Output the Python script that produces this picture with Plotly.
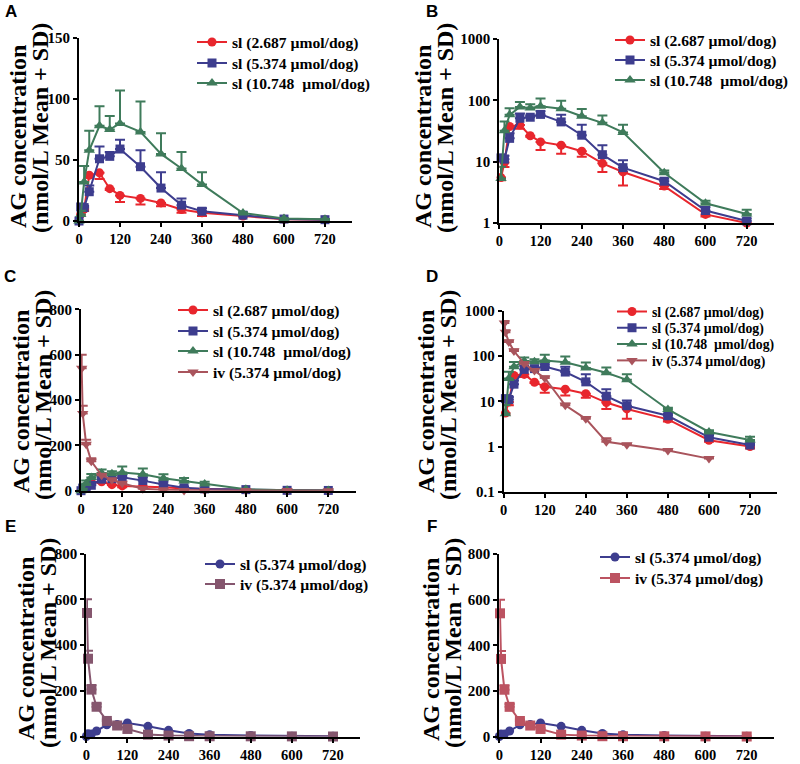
import plotly.graph_objects as go

# ---------------- data ----------------
t_sl = [0, 5, 15, 30, 60, 90, 120, 180, 240, 300, 360, 480, 600, 720]
sl_low_mean = [0, 5.5, 9.7, 37.5, 39.5, 26.5, 21, 18.5, 14.8, 9.4, 6.8, 4.0, 1.38, 1.0]
sl_low_sd = [0, 0.5, 1.5, 2, 5, 1, 5.5, 5, 2.8, 2.6, 2.7, 0.4, 0.1, 0.1]
sl_mid_mean = [0, 11.5, 11, 24, 51, 53, 59, 44.5, 27, 13, 8, 4.8, 1.6, 1.08]
sl_mid_sd = [0, 1.5, 1.5, 5, 10, 3.5, 7.5, 13.5, 13, 5.5, 2.5, 0.5, 0.2, 0.1]
sl_high_mean = [0, 5.3, 32, 58, 78, 75, 80, 73, 55, 43, 30, 6.6, 2.1, 1.4]
sl_high_sd = [0, 3, 13, 16, 16, 11, 27, 25, 17, 13.5, 10, 0.6, 0.2, 0.25]
t_iv = [2, 5, 15, 30, 60, 90, 120, 180, 240, 300, 360, 480, 600, 720]
iv_mean = [540, 340, 205, 130, 68, 48, 33, 8.2, 4.1, 1.27, 1.1, 0.82, 0.54, 0]
iv_sd = [60, 35, 20, 13, 6, 3, 3, 0.8, 0.4, 0.25, 0.05, 0.05, 0.05, 0]

x_ticks = [0, 120, 240, 360, 480, 600, 720]
lin150_ticks = [0, 50, 100, 150]
lin800_ticks = [0, 200, 400, 600, 800]
log_ticks_B = [1, 10, 100, 1000]
log_ticks_D = [0.1, 1, 10, 100, 1000]

name_low = "sl (2.687 µmol/dog)"
name_mid = "sl (5.374 µmol/dog)"
name_high = "sl (10.748  µmol/dog)"
name_iv = "iv (5.374 µmol/dog)"
panel_letters = ["A", "B", "C", "D", "E", "F"]

# ---------------- style ----------------
W, H = 800, 764
RED = "#E8262D"
BLUE = "#3D3D8E"
GREEN = "#3F7B5B"
IV_CD = "#A9545C"
IV_E = "#85566E"
IV_F = "#BC5361"
SERIF = "Liberation Serif"
SANS = "Liberation Sans"


def px(x):
    return x / W


def py(y):
    return 1 - y / H


# panel geometry in pixels: x0, x_end, y_top, y_bottom
geo = [
    (79, 352.3, 38, 221),
    (499.3, 774.2, 39, 223),
    (81, 355.8, 309.3, 490.7),
    (503.7, 777.4, 311, 491.7),
    (86.3, 360.4, 553.5, 736.5),
    (499.3, 774.2, 554, 736.5),
]
yaxis_cfg = [
    dict(type="linear", range=[0, 150], tickvals=lin150_ticks),
    dict(type="log", range=[0, 3], tickvals=log_ticks_B),
    dict(type="linear", range=[0, 800], tickvals=lin800_ticks),
    dict(type="log", range=[-1, 3], tickvals=log_ticks_D),
    dict(type="linear", range=[0, 800], tickvals=lin800_ticks),
    dict(type="linear", range=[0, 800], tickvals=lin800_ticks),
]
# legend: text-left x, row centre y's (px), font size
legend_rows = [
    (232, [42, 63, 83], 15.6),
    (650, [40, 60, 80], 15.6),
    (213, [310, 331, 351, 372], 15.6),
    (652, [311.5, 327.8, 344.1, 360.4], 13.8),
    (240, [564, 584], 15.6),
    (635, [557, 578], 15.6),
]
# y-title line centres (x1, y1, x2, y2)
ytitle_pos = [
    (18, 137, 40, 128),
    (423, 137, 445, 128),
    (21, 402, 43, 395),
    (426, 402, 448, 395),
    (26, 649, 48, 643),
    (431, 649, 453, 643),
]
letter_pos = [(11, 11), (432, 11), (10, 276), (432, 276), (10, 526), (432, 526)]

LEG_TEXT_OFF = 40   # text starts this far right of legend x

fig = go.Figure()
layout_legends = {}
legend_counter = [0]


def add_series(i, row, t, mean, sd, color, symbol, name, up=True, err=True, size=9):
    log = yaxis_cfg[i]["type"] == "log"
    xs, ys, sds = [], [], []
    for a, b, c in zip(t, mean, sd):
        if log and b <= 0:
            continue
        xs.append(a)
        ys.append(b)
        sds.append(c)
    zeros = [0] * len(sds)
    suffix = "" if i == 0 else str(i + 1)
    legend_counter[0] += 1
    n = legend_counter[0]
    leg = "legend" if n == 1 else "legend%d" % n
    tx, rows, fs = legend_rows[i]
    row_off = 5 + (1.3 * fs + 3) / 2
    layout_legends[leg] = dict(
        x=px(tx - LEG_TEXT_OFF),
        y=py(rows[row] - row_off),
        xanchor="left",
        yanchor="top",
        bgcolor="rgba(0,0,0,0)",
        borderwidth=0,
        font=dict(family=SERIF, size=fs, color="black", weight="bold"),
        itemwidth=30,
    )
    fig.add_trace(
        go.Scatter(
            x=xs,
            y=ys,
            mode="lines+markers",
            name=name,
            line=dict(color=color, width=2),
            marker=dict(color=color, symbol=symbol, size=size, line=dict(width=0)),
            error_y=dict(
                type="data",
                symmetric=False,
                array=sds if up else zeros,
                arrayminus=zeros if up else sds,
                color=color,
                thickness=2,
                width=5,
                visible=err,
            ),
            xaxis="x" + suffix,
            yaxis="y" + suffix,
            legend=leg,
            cliponaxis=False,
        )
    )


for i in range(4):
    add_series(i, 0, t_sl, sl_low_mean, sl_low_sd, RED, "circle", name_low, up=False)
    add_series(i, 1, t_sl, sl_mid_mean, sl_mid_sd, BLUE, "square", name_mid)
    add_series(i, 2, t_sl, sl_high_mean, sl_high_sd, GREEN, "triangle-up", name_high, size=10)
    if i >= 2:
        add_series(i, 3, t_iv, iv_mean, iv_sd, IV_CD, "triangle-down", name_iv, size=10)

add_series(4, 0, t_sl, sl_mid_mean, sl_mid_sd, BLUE, "circle", name_mid, err=False)
add_series(4, 1, t_iv, iv_mean, iv_sd, IV_E, "square", name_iv, size=10)
add_series(5, 0, t_sl, sl_mid_mean, sl_mid_sd, BLUE, "circle", name_mid, err=False)
add_series(5, 1, t_iv, iv_mean, iv_sd, IV_F, "square", name_iv, size=10)

layout = dict(
    width=W,
    height=H,
    margin=dict(l=0, r=0, t=0, b=0, pad=0, autoexpand=False),
    paper_bgcolor="white",
    plot_bgcolor="white",
    showlegend=True,
    annotations=[],
)
layout.update(layout_legends)

axis_common = dict(
    showline=True,
    linecolor="black",
    linewidth=2,
    ticks="outside",
    ticklen=4,
    tickwidth=2,
    tickcolor="black",
    showgrid=False,
    zeroline=False,
    mirror=False,
    automargin=False,
)

for i in range(6):
    x0, x1, yt, yb = geo[i]
    suffix = "" if i == 0 else str(i + 1)
    layout["xaxis" + suffix] = dict(
        axis_common,
        domain=[px(x0), px(x1)],
        range=[0, 800],
        tickvals=x_ticks,
        ticktext=[str(v) for v in x_ticks],
        tickfont=dict(family=SERIF, size=14.5, color="black", weight="bold"),
        anchor="y" + suffix,
    )
    ycfg = dict(yaxis_cfg[i])
    ycfg["ticktext"] = [("%g" % v) for v in ycfg["tickvals"]]
    layout["yaxis" + suffix] = dict(
        axis_common,
        domain=[py(yb), py(yt)],
        tickfont=dict(family=SERIF, size=15, color="black", weight="bold"),
        anchor="x" + suffix,
        **ycfg,
    )
    a1x, a1y, a2x, a2y = ytitle_pos[i]
    for txt, ax_, ay_ in (("AG concentration", a1x, a1y), ("(nmol/L Mean + SD)", a2x, a2y)):
        layout["annotations"].append(
            dict(
                text=txt,
                x=px(ax_), y=py(ay_), xref="paper", yref="paper",
                xanchor="center", yanchor="middle", textangle=-90, showarrow=False,
                font=dict(family=SERIF, size=24, color="black", weight="bold"),
            )
        )
    lpx, lpy = letter_pos[i]
    layout["annotations"].append(
        dict(
            text=panel_letters[i],
            x=px(lpx), y=py(lpy), xref="paper", yref="paper",
            xanchor="center", yanchor="middle", showarrow=False,
            font=dict(family=SANS, size=17, color="black", weight="bold"),
        )
    )

fig.update_layout(**layout)
fig.write_html(
    "out.html",
    config={"displayModeBar": False},
    post_script="document.body.style.margin='0';document.body.style.overflow='hidden';",
)
